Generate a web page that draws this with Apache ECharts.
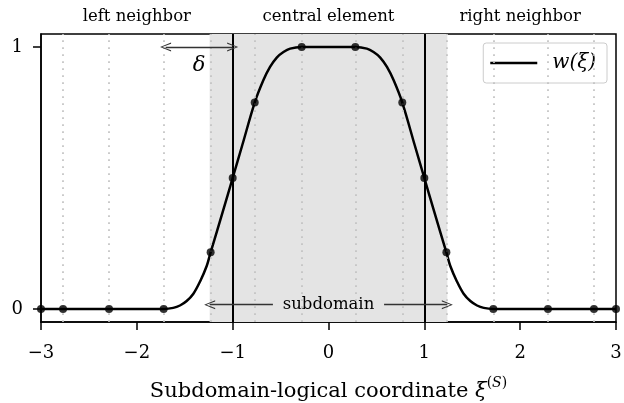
<!DOCTYPE html>
<html><head><meta charset="utf-8">
<script src="https://cdn.jsdelivr.net/npm/echarts@6/dist/echarts.min.js"></script>
<style>html,body{margin:0;padding:0;background:#fff}#c{width:624px;height:403px}</style>
</head><body><div id="c"></div>
<script>
// ---- data ----
const curveXi = [-3, -2.77, -2.29, -1.72, -1.62, -1.55, -1.48, -1.41, -1.34, -1.27, -1.23, -1.1, -1, -0.9, -0.77, -0.68, -0.61, -0.54, -0.47, -0.40, -0.28,
                 0.28, 0.40, 0.47, 0.54, 0.61, 0.68, 0.77, 0.9, 1, 1.1, 1.23, 1.27, 1.34, 1.41, 1.48, 1.55, 1.62, 1.72, 2.29, 2.77, 3];
const curveW  = [0, 0, 0, 0, 0.004, 0.013, 0.03, 0.058, 0.105, 0.165, 0.216, 0.375, 0.5, 0.625, 0.788, 0.873, 0.924, 0.960, 0.981, 0.994, 1.0,
                 1.0, 0.994, 0.981, 0.960, 0.924, 0.873, 0.788, 0.625, 0.5, 0.375, 0.216, 0.165, 0.105, 0.058, 0.03, 0.013, 0.004, 0, 0, 0, 0];
const nodeXi = [-3, -2.77, -2.29, -1.72, -1.23, -1, -0.77, -0.28, 0.28, 0.77, 1, 1.23, 1.72, 2.29, 2.77, 3];
const nodeW  = [0, 0, 0, 0, 0.216, 0.5, 0.788, 1, 1, 0.788, 0.5, 0.216, 0, 0, 0, 0];
const dottedXi = [-2.77, -2.29, -1.72, -1.23, -0.77, -0.28, 0.28, 0.77, 1.23, 1.72, 2.29, 2.77];
const elementEdges = [-1, 1];
const subdomainSpan = [-1.24, 1.24];
const deltaSpan = [-1.7, -1.0];
const deltaY = 1.0;
const deltaLabelPos = [-1.35, 0.93];
const subdomainY = 0.016;
const subdomainGap = [-0.58, 0.58];
const regionXi = [-2, 0, 2];
const regionNames = ['left neighbor', 'central element', 'right neighbor'];
const xTicks = [-3, -2, -1, 0, 1, 2, 3];
const yTicks = [0, 1];
const seriesName = 'w(ξ)';

const FONT = 'DejaVu Serif';
const chevron = 'path://M50,0 L100,100 L86,100 L50,20 L14,100 L0,100 Z';
const curveData = curveXi.map((x, i) => [x, curveW[i]]);
const nodeData = nodeXi.map((x, i) => [x, nodeW[i]]);
const arrowLine = {color: '#333', width: 1.3, type: 'solid'};

const chart = echarts.init(document.getElementById('c'), null, {renderer: 'canvas'});
chart.setOption({
  animation: false,
  backgroundColor: '#fff',
  grid: {left: 41, right: 8, top: 34, bottom: 81, show: true, borderColor: '#000', borderWidth: 1.5,
         backgroundColor: 'transparent', containLabel: false, outerBoundsMode: 'none'},
  legend: {
    data: [{name: seriesName, icon: 'rect'}], right: 17, top: 43,
    padding: [10, 11, 10, 7], itemWidth: 47, itemHeight: 2.5,
    backgroundColor: 'rgba(255,255,255,0.8)', borderColor: '#cccccc', borderWidth: 1, borderRadius: 3,
    textStyle: {fontFamily: FONT, fontStyle: 'italic', fontSize: 20, color: '#000', padding: [0, 0, 0, 10]}
  },
  xAxis: [{
    type: 'value', min: -3, max: 3, interval: 1,
    axisLine: {show: true, onZero: false, lineStyle: {color: '#000', width: 1.5}},
    axisTick: {show: true, inside: false, length: 8, lineStyle: {color: '#000', width: 1.5}, customValues: xTicks},
    axisLabel: {fontFamily: FONT, fontSize: 18, color: '#000', margin: 22, customValues: xTicks,
      formatter: v => (v < 0 ? '\u2212' + Math.abs(v) : String(v))},
    splitLine: {show: false},
    name: 'Subdomain-logical coordinate {it|ξ}{sup|(}{supi|S}{sup|)}',
    nameLocation: 'middle', nameGap: 54,
    nameTextStyle: {fontFamily: FONT, fontSize: 21, color: '#000',
      rich: {it: {fontFamily: FONT, fontSize: 21, fontStyle: 'italic', color: '#000'},
             sup: {fontFamily: FONT, fontSize: 14, color: '#000', padding: [0, 0, 17, 0]},
             supi: {fontFamily: FONT, fontSize: 14, fontStyle: 'italic', color: '#000', padding: [0, 0, 17, 0]}}}
  }, {
    type: 'value', min: -3, max: 3, interval: 1, position: 'top',
    axisLine: {show: false}, axisTick: {show: false}, splitLine: {show: false},
    axisLabel: {fontFamily: FONT, fontSize: 16.5, color: '#000', margin: 9,
      customValues: regionXi,
      formatter: v => { const i = regionXi.indexOf(v); return i >= 0 ? regionNames[i] : ''; }}
  }],
  yAxis: {
    type: 'value', min: -0.05, max: 1.05,
    axisLine: {show: true, onZero: false, lineStyle: {color: '#000', width: 1.5}},
    axisTick: {show: true, inside: false, length: 8, lineStyle: {color: '#000', width: 1.5}, customValues: yTicks},
    axisLabel: {fontFamily: FONT, fontSize: 18, color: '#000', margin: 18, customValues: yTicks},
    splitLine: {show: false}
  },
  series: [
    {
      type: 'line', z: 1, data: curveData, silent: true, showSymbol: false, symbol: 'none',
      lineStyle: {opacity: 0},
      markArea: {silent: true, itemStyle: {color: '#e4e4e4'},
        data: [[{xAxis: subdomainSpan[0]}, {xAxis: subdomainSpan[1]}]]},
      markLine: {silent: true, symbol: 'none', label: {show: false},
        lineStyle: {color: '#c2c2c2', width: 1.7, type: [1.7, 5.3]},
        data: dottedXi.map(x => ({xAxis: x}))}
    },
    {
      type: 'line', z: 3, data: [], silent: true, symbol: 'none',
      markLine: {silent: true, symbol: 'none', label: {show: false},
        data: [
          ...elementEdges.map(x => ({xAxis: x, lineStyle: {color: '#000', width: 2, type: 'solid'}})),
          [{coord: [deltaSpan[0], deltaY], symbol: chevron, symbolSize: [9, 11]},
           {coord: [deltaSpan[1], deltaY], symbol: chevron, symbolSize: [9, 11], lineStyle: arrowLine}],
          [{coord: [subdomainSpan[0], subdomainY], symbol: chevron, symbolSize: [9, 11]},
           {coord: [subdomainGap[0], subdomainY], symbol: 'none', lineStyle: arrowLine}],
          [{coord: [subdomainGap[1], subdomainY], symbol: 'none'},
           {coord: [subdomainSpan[1], subdomainY], symbol: chevron, symbolSize: [9, 11], lineStyle: arrowLine}]
        ]},
      markPoint: {silent: true, symbol: 'circle', symbolSize: 0,
        data: [
          {coord: [(subdomainGap[0] + subdomainGap[1]) / 2, subdomainY], value: 'subdomain',
            label: {show: true, position: 'inside', formatter: 'subdomain', fontFamily: FONT, fontSize: 16.5, color: '#000'}},
          {coord: deltaLabelPos, value: 'δ',
            label: {show: true, position: 'inside', formatter: 'δ', fontFamily: FONT, fontStyle: 'italic', fontSize: 21, color: '#000'}}
        ]}
    },
    {
      name: seriesName, type: 'line', z: 4, data: curveData,
      smooth: 0.35, symbol: 'none', showSymbol: false,
      lineStyle: {color: '#000', width: 2.5}, itemStyle: {color: '#000'}
    },
    {
      type: 'scatter', z: 5, data: nodeData, symbol: 'circle', symbolSize: 8, clip: false,
      itemStyle: {color: '#000'}, silent: true
    }
  ]
});
</script>
</body></html>
